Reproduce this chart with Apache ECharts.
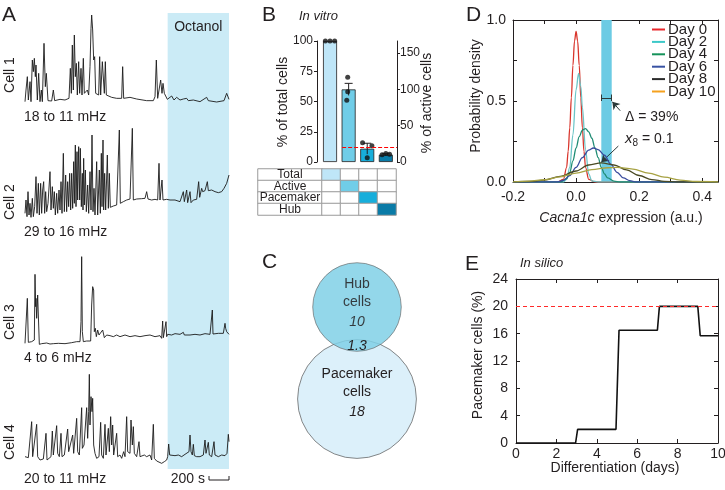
<!DOCTYPE html>
<html>
<head>
<meta charset="utf-8">
<script src="https://cdn.jsdelivr.net/npm/echarts@6/dist/echarts.min.js"></script>
<style>
  html, body { margin: 0; padding: 0; background: #fff; }
  #main { width: 725px; height: 490px; }
</style>
</head>
<body>
<div id="main"></div>
<script>
// ---------- A: calcium traces, [frame, F (a.u.)], one frame = 10/3 s
var frameSec = 10 / 3;
var octanolStart = 428;
var traceEnd = 612;
var cellNames = ['Cell 1', 'Cell 2', 'Cell 3', 'Cell 4'];
var cellFreq = ['18 to 11 mHz', '29 to 16 mHz', '4 to 6 mHz', '20 to 11 mHz'];

var cell1 = [[0,25],[3,60],[7,100],[10,30],[15,85],[18,25],[22,150],[25,115],[28,155],[31,100],[33,135],[37,30],[41,110],[45,25],[49,60],[52,25],[57,200],[61,70],[64,110],[69,28],[80,27],[85,60],[89,28],[105,32],[120,30],[132,35],[136,125],[139,50],[142,195],[145,60],[148,225],[151,100],[154,140],[157,45],[161,145],[164,50],[168,125],[171,45],[175,155],[178,50],[182,45],[187,60],[191,45],[195,130],[198,245],[200,285],[203,240],[206,150],[209,160],[212,50],[217,50],[221,45],[224,160],[227,45],[232,145],[235,140],[238,50],[241,145],[244,45],[250,42],[260,38],[275,35],[290,35],[293,130],[296,35],[315,38],[335,33],[365,28],[385,28],[390,40],[394,150],[398,35],[403,38],[407,90],[411,50],[414,80],[418,50],[422,55],[427,32],[433,35],[440,42],[447,30],[455,38],[465,30],[475,33],[485,35],[490,28],[505,30],[525,25],[530,22],[545,38],[550,28],[575,24],[597,28],[605,50],[609,45],[612,32]];

var cell2 = [[0,20],[3,60],[6,10],[9,85],[12,15],[15,50],[18,8],[22,65],[25,10],[29,40],[33,130],[36,20],[40,110],[43,15],[47,110],[50,20],[53,90],[56,115],[59,20],[62,85],[65,25],[69,50],[75,145],[78,30],[82,100],[85,35],[88,85],[91,15],[95,80],[98,20],[102,90],[105,30],[108,115],[111,20],[115,200],[118,25],[122,135],[125,25],[128,115],[131,40],[134,140],[137,30],[140,140],[143,35],[146,175],[148,50],[151,225],[153,40],[156,205],[158,60],[161,220],[164,60],[166,215],[169,40],[172,140],[174,30],[176,185],[178,45],[181,150],[184,25],[188,105],[191,20],[195,145],[198,30],[201,255],[204,25],[207,95],[210,15],[215,175],[218,15],[223,150],[226,20],[229,200],[231,40],[234,240],[236,30],[239,140],[242,30],[247,195],[250,35],[253,140],[256,38],[265,42],[275,45],[281,48],[283,270],[286,50],[295,55],[305,60],[315,63],[319,60],[322,275],[325,60],[335,63],[350,64],[360,65],[365,85],[369,63],[380,60],[390,62],[398,60],[402,170],[405,60],[408,65],[411,120],[414,60],[425,62],[435,60],[450,60],[465,55],[475,85],[478,55],[485,90],[488,52],[495,85],[498,52],[505,60],[515,62],[521,115],[524,68],[530,95],[533,85],[540,88],[547,115],[550,88],[560,90],[565,95],[570,85],[580,82],[590,85],[597,95],[605,110],[612,135]];

var cell3 = [[0,5],[4,10],[7,140],[10,8],[14,4],[20,10],[28,15],[30,212],[32,115],[33,140],[35,80],[38,150],[40,90],[43,2],[50,4],[65,6],[75,3],[80,8],[85,4],[100,5],[120,4],[140,7],[155,10],[160,15],[165,10],[168,70],[170,265],[172,40],[175,10],[180,15],[185,12],[190,10],[197,12],[200,120],[203,175],[206,165],[208,40],[211,50],[214,25],[218,45],[222,30],[228,35],[233,45],[238,22],[245,30],[255,28],[265,25],[275,30],[285,25],[300,30],[315,25],[330,28],[345,25],[360,28],[375,30],[390,25],[405,28],[410,20],[413,72],[415,22],[420,25],[423,70],[425,25],[428,32],[440,30],[450,34],[465,32],[475,38],[478,30],[495,30],[510,32],[525,30],[540,34],[555,32],[560,35],[562,105],[564,33],[580,35],[595,35],[600,65],[602,50],[605,40],[612,32]];

var cell4 = [[0,25],[5,20],[10,22],[15,25],[20,130],[23,25],[28,20],[35,122],[38,25],[45,15],[50,15],[55,18],[63,95],[66,15],[72,10],[78,25],[82,102],[85,30],[90,30],[95,118],[98,35],[103,25],[108,95],[111,25],[118,30],[123,30],[128,108],[131,40],[136,35],[143,90],[146,35],[150,30],[155,140],[158,40],[163,30],[170,172],[172,50],[177,60],[185,172],[188,80],[191,160],[193,272],[195,120],[198,205],[201,160],[203,200],[206,60],[210,35],[215,20],[222,25],[227,128],[230,30],[235,20],[240,122],[243,30],[247,30],[250,110],[253,40],[257,145],[260,60],[263,120],[266,30],[270,25],[275,95],[278,25],[285,30],[290,20],[296,40],[300,25],[305,145],[308,40],[315,35],[318,135],[322,60],[325,115],[328,35],[335,25],[342,70],[345,25],[350,20],[358,30],[362,35],[365,25],[370,20],[375,30],[380,15],[385,122],[388,20],[395,12],[400,8],[410,5],[418,10],[425,15],[428,25],[431,63],[434,30],[440,25],[450,28],[460,30],[470,25],[480,32],[492,40],[495,90],[498,40],[502,30],[505,62],[508,28],[515,25],[525,25],[535,30],[540,75],[543,35],[548,40],[550,68],[553,30],[560,25],[567,70],[570,30],[580,25],[590,30],[600,28],[606,35],[610,92],[612,70]];

var cells = [cell1, cell2, cell3, cell4];

// ---------- B: in vitro cell fractions
var bCats = ['Total', 'Active', 'Pacemaker', 'Hub'];
var bMean = [100, 60, 11, 6];
var bSem = [0, 5, 4.5, 0.8];
var bDots = [[100, 100, 100], [70, 58, 51], [16, 13.5, 3.5], [6, 7, 6.5]];
var bJitter = [[-0.25, 0, 0.25], [-0.05, -0.05, -0.1], [-0.25, 0.25, 0], [-0.2, 0, 0.2]];
var bColors = ['#bfe6f8', '#70cde8', '#17aedb', '#0a7ba7'];
var activeShare = 60;        // active cells as % of total (right axis scale)
var pacemakerThreshold = 20; // % of active cells
var thresholdSpan = [1.65, 4.6];

// ---------- C: Venn
var vennNames = ['Pacemaker', 'Hub'];
var vennSize = [18, 10];
var vennOverlap = 1.3;
var vennCenterY = [0, 0.92];
var vennColors = ['#dcf0fa', '#80d0e6'];

// ---------- D: Cacna1c expression densities
var dayNames = ['Day 0', 'Day 2', 'Day 4', 'Day 6', 'Day 8', 'Day 10'];
var day0 = [[-0.2,0],[-0.06,0],[-0.04,0.016],[-0.03,0.09],[-0.025,0.19],[-0.02,0.335],[-0.015,0.52],[-0.01,0.72],[-0.005,0.87],[0,0.93],[0.005,0.87],[0.01,0.72],[0.015,0.52],[0.02,0.335],[0.025,0.19],[0.03,0.09],[0.04,0.016],[0.06,0],[0.45,0]];
var day2 = [[-0.2,0],[-0.04,0],[-0.03,0.017],[-0.02,0.09],[-0.01,0.29],[0,0.57],[0.008,0.67],[0.015,0.59],[0.02,0.46],[0.03,0.2],[0.04,0.05],[0.05,0.007],[0.07,0],[0.45,0]];
var day4 = [[-0.2,0],[-0.05,0],[-0.03,0.02],[-0.02,0.06],[-0.01,0.13],[0,0.21],[0.01,0.28],[0.02,0.32],[0.03,0.33],[0.04,0.31],[0.05,0.27],[0.06,0.21],[0.07,0.15],[0.08,0.09],[0.09,0.05],[0.1,0.025],[0.12,0.005],[0.14,0],[0.45,0]];
var day6 = [[-0.2,0],[-0.06,0],[-0.04,0.01],[-0.02,0.04],[0,0.09],[0.02,0.15],[0.04,0.197],[0.055,0.21],[0.07,0.2],[0.09,0.165],[0.11,0.11],[0.13,0.06],[0.15,0.025],[0.17,0.008],[0.19,0],[0.45,0]];
var day8 = [[-0.2,0],[-0.15,0.003],[-0.1,0.012],[-0.05,0.035],[0,0.068],[0.04,0.105],[0.08,0.118],[0.12,0.105],[0.16,0.075],[0.2,0.04],[0.24,0.015],[0.28,0.004],[0.32,0],[0.45,0]];
var day10 = [[-0.2,0.001],[-0.15,0.005],[-0.1,0.014],[-0.05,0.032],[0,0.055],[0.05,0.076],[0.1,0.088],[0.13,0.09],[0.18,0.08],[0.23,0.055],[0.28,0.03],[0.33,0.012],[0.38,0.003],[0.45,0]];
var dayCurves = [day0, day2, day4, day6, day8, day10];
var dayLineColors = ['#d9352c', '#6cc5c7', '#1f8c74', '#3a4c9e', '#4a4a24', '#a7a243'];
var dayLegendColors = ['#e8262b', '#3cc8c8', '#15925a', '#3852a3', '#2b2b2b', '#f5a11e'];
var deltaBand = [0.08, 0.113];
var deltaY = 0.52;

// ---------- E: in silico pacemaker fraction
var eDays = [0, 2.95, 3.05, 4.95, 5.1, 7.0, 7.1, 9.0, 9.12, 10];
var ePacemaker = [0, 0, 2, 2, 16.5, 16.5, 20, 20, 15.7, 15.7];
var eTarget = 20;

var FONT = 'Liberation Sans, Arial, sans-serif';
var INK = '#231f20';

var chart = echarts.init(document.getElementById('main'));

function hidden(extra) {
  return Object.assign({ show: false }, extra);
}
function boxAxis(extra) {
  return Object.assign({
    type: 'value',
    axisLine: { show: true, onZero: false, lineStyle: { color: INK, width: 1 } },
    axisTick: { show: true, inside: true, length: 4, lineStyle: { color: INK } },
    splitLine: { show: false },
    axisLabel: { show: false }
  }, extra);
}
var tickFont = { fontFamily: FONT, fontSize: 14, color: INK };

var grids = [
  { left: 25, top: 13, width: 204, height: 456 },
  { left: 25, top: 10, width: 204, height: 100 },
  { left: 25, top: 120, width: 204, height: 100 },
  { left: 25, top: 245, width: 204, height: 100 },
  { left: 25, top: 365, width: 204, height: 100 },
  { left: 317, top: 41, width: 80, height: 121 },
  { left: 258, top: 169, width: 64, height: 46 },
  { left: 322, top: 169, width: 74, height: 46 },
  { left: 290, top: 240, width: 134, height: 230 },
  { left: 513, top: 20, width: 205, height: 162 },
  { left: 516, top: 279, width: 202, height: 164 }
].map(function (g) { g.outerBoundsMode = 'none'; return g; });

var xAxes = [];
var yAxes = [];
for (var i = 0; i < 5; i++) {
  xAxes.push(hidden({ type: 'value', gridIndex: i, min: 0, max: traceEnd }));
  yAxes.push(hidden({ type: 'value', gridIndex: i, min: 0, max: i === 0 ? 1 : 300 }));
}
// B
xAxes.push(hidden({ type: 'value', gridIndex: 5, min: 0.3, max: 4.6 }));           // 5
yAxes.push({                                                                       // 5
  type: 'value', gridIndex: 5, min: 0, max: 100, interval: 25, position: 'left',
  axisLine: { show: true, lineStyle: { color: INK } },
  axisTick: { show: true, length: 3, lineStyle: { color: INK } },
  axisLabel: { margin: 4, fontFamily: FONT, fontSize: 12, color: INK },
  splitLine: { show: false }
});
yAxes.push({                                                                       // 6
  type: 'value', gridIndex: 5, min: 0, max: 100 / activeShare * 100, interval: 50, position: 'right',
  axisLine: { show: true, lineStyle: { color: INK } },
  axisTick: { show: true, length: 3, lineStyle: { color: INK }, customValues: [0, 50, 100, 150] },
  axisLabel: { margin: 3, fontFamily: FONT, fontSize: 12, color: INK, customValues: [0, 50, 100, 150] },
  splitLine: { show: false }
});
xAxes.push(hidden({ type: 'category', gridIndex: 6, data: [''] }));               // 6
yAxes.push(hidden({ type: 'category', gridIndex: 6, data: bCats, inverse: true })); // 7
xAxes.push(hidden({ type: 'category', gridIndex: 7, data: bCats }));              // 7
yAxes.push(hidden({ type: 'category', gridIndex: 7, data: bCats, inverse: true })); // 8
// C
xAxes.push(hidden({ type: 'value', gridIndex: 8, min: -0.67, max: 0.67 }));       // 8
yAxes.push(hidden({ type: 'value', gridIndex: 8, min: -0.71, max: 1.59 }));       // 9
// D
var dTicks = [-0.2, -0.1, 0, 0.1, 0.2, 0.3, 0.4];
xAxes.push(boxAxis({                                                               // 9
  gridIndex: 9, min: -0.2, max: 0.45, interval: 0.1, position: 'bottom',
  axisTick: { show: true, inside: true, length: 4, lineStyle: { color: INK }, customValues: dTicks },
  axisLabel: Object.assign({ show: true, margin: 8, customValues: [-0.2, 0, 0.2, 0.4],
    formatter: function (v) { return Math.abs(Math.round(v * 10)) % 2 === 0 ? v.toFixed(1) : ''; } }, tickFont)
}));
xAxes.push(boxAxis({ gridIndex: 9, min: -0.2, max: 0.45, interval: 0.1, position: 'top',
  axisTick: { show: true, inside: true, length: 4, lineStyle: { color: INK }, customValues: dTicks } }));   // 10
yAxes.push(boxAxis({                                                               // 10
  gridIndex: 9, min: 0, max: 1, interval: 0.25, position: 'left',
  axisLabel: Object.assign({ show: true, margin: 7, customValues: [0, 0.5, 1],
    formatter: function (v) { return (v * 100) % 50 === 0 ? v.toFixed(1) : ''; } }, tickFont)
}));
yAxes.push(boxAxis({ gridIndex: 9, min: 0, max: 1, interval: 0.25, position: 'right' }));   // 11
// E
xAxes.push(boxAxis({ gridIndex: 10, min: 0, max: 10, interval: 2, position: 'bottom',
  axisLabel: Object.assign({ show: true, margin: 4 }, tickFont) }));               // 11
xAxes.push(boxAxis({ gridIndex: 10, min: 0, max: 10, interval: 2, position: 'top' })); // 12
yAxes.push(boxAxis({ gridIndex: 10, min: 0, max: 24, interval: 4, position: 'left',
  axisLabel: Object.assign({ show: true, margin: 8 }, tickFont) }));               // 12
yAxes.push(boxAxis({ gridIndex: 10, min: 0, max: 24, interval: 4, position: 'right' })); // 13

var series = [];

// A: octanol band
series.push({
  type: 'line', xAxisIndex: 0, yAxisIndex: 0, data: [], silent: true,
  markArea: {
    silent: true,
    itemStyle: { color: '#cbebf6' },
    label: { show: true, position: 'insideTop', distance: 7, fontFamily: FONT, fontSize: 14, color: INK },
    data: [[{ name: 'Octanol', xAxis: octanolStart }, { xAxis: traceEnd }]]
  }
});
cells.forEach(function (c, k) {
  series.push({
    type: 'line', name: cellNames[k], xAxisIndex: k + 1, yAxisIndex: k + 1,
    data: c, showSymbol: false, symbol: 'none', silent: true, z: 3,
    lineStyle: { color: '#1b1b1b', width: 0.9 }
  });
});

// B: bars, error bars, dots, threshold
series.push({
  type: 'bar', xAxisIndex: 5, yAxisIndex: 5, barWidth: 14,
  data: bMean.map(function (v, k) { return { value: [k + 1, v], itemStyle: { color: bColors[k] } }; }),
  itemStyle: { borderColor: INK, borderWidth: 0.8 }
});
series.push({
  type: 'custom', xAxisIndex: 5, yAxisIndex: 5, z: 4,
  data: bMean.map(function (v, k) { return [k + 1, v, bSem[k]]; }).filter(function (d) { return d[2] > 0; }),
  renderItem: function (params, api) {
    var x = api.value(0), m = api.value(1), s = api.value(2);
    var top = api.coord([x, m + s]), bot = api.coord([x, m - s]);
    var st = { stroke: INK, lineWidth: 1 };
    return { type: 'group', children: [
      { type: 'line', shape: { x1: top[0], y1: top[1], x2: bot[0], y2: bot[1] }, style: st },
      { type: 'line', shape: { x1: top[0] - 4, y1: top[1], x2: top[0] + 4, y2: top[1] }, style: st }
    ] };
  }
});
var dots = [];
bDots.forEach(function (arr, k) {
  arr.forEach(function (v, j) { dots.push([k + 1 + bJitter[k][j], v]); });
});
series.push({
  type: 'scatter', xAxisIndex: 5, yAxisIndex: 5, z: 5, symbolSize: 5,
  itemStyle: { color: '#111' }, data: dots
});
series.push({
  type: 'line', xAxisIndex: 5, yAxisIndex: 6, silent: true, z: 6,
  data: thresholdSpan.map(function (x) { return [x, pacemakerThreshold]; }),
  showSymbol: false, symbol: 'none',
  lineStyle: { color: '#ff0000', type: [4, 2], width: 1.1 }
});

// B: table
series.push({
  type: 'heatmap', xAxisIndex: 6, yAxisIndex: 7, silent: true,
  data: bCats.map(function (c, r) { return [0, r, 0]; }),
  itemStyle: { color: '#fff', borderColor: '#9a9a9a', borderWidth: 1 },
  label: { show: true, fontFamily: FONT, fontSize: 12, color: INK,
    formatter: function (p) { return bCats[p.value[1]]; } }
});
var tableCells = [];
bCats.forEach(function (rc, r) {
  bCats.forEach(function (cc, c) {
    tableCells.push({ value: [c, r, r === c ? 1 : 0], itemStyle: { color: r === c ? bColors[c] : '#fff' } });
  });
});
series.push({
  type: 'heatmap', xAxisIndex: 7, yAxisIndex: 8, silent: true, data: tableCells,
  itemStyle: { borderColor: '#9a9a9a', borderWidth: 1 }
});

// C: Venn
var vennLabels = ['{n|Pacemaker}\n{n|cells}\n{v|' + vennSize[0] + '}', '{n|Hub}\n{n|cells}\n{v|' + vennSize[1] + '}'];
var vennLabelShift = [-5, -3];
series.push({
  type: 'scatter', xAxisIndex: 8, yAxisIndex: 9, silent: true,
  data: vennNames.map(function (n, k) {
    return {
      name: n, value: [0, vennCenterY[k]],
      symbolSize: 28 * Math.sqrt(vennSize[k]),
      itemStyle: { color: vennColors[k], opacity: k === 1 ? 0.85 : 1, borderColor: '#6a6a6a', borderWidth: 0.8 },
      label: {
        show: true, position: 'inside', offset: [0, vennLabelShift[k]], formatter: vennLabels[k],
        rich: {
          n: { fontFamily: FONT, fontSize: 14, color: INK, lineHeight: 18 },
          v: { fontFamily: FONT, fontSize: 14, fontStyle: 'italic', color: INK, lineHeight: 22 }
        }
      }
    };
  })
});

// D: densities
dayCurves.forEach(function (curve, k) {
  var s = {
    type: 'line', name: dayNames[k], xAxisIndex: 9, yAxisIndex: 10,
    data: curve, smooth: 0.35, smoothMonotone: 'x', showSymbol: false, symbol: 'none',
    lineStyle: { color: dayLineColors[k], width: 1.3 }, itemStyle: { color: dayLineColors[k] },
    z: 3 + k
  };
  if (k === 0) {
    s.markArea = {
      silent: true, itemStyle: { color: '#6ccbe4' },
      data: [[{ xAxis: deltaBand[0] }, { xAxis: deltaBand[1] }]]
    };
    s.markLine = {
      silent: true, symbol: 'none', label: { show: false },
      lineStyle: { color: '#2b3a3a', width: 1, type: 'solid' },
      data: [
        [{ coord: [deltaBand[0], deltaY] }, { coord: [deltaBand[1], deltaY] }],
        [{ coord: [deltaBand[0], deltaY - 0.02] }, { coord: [deltaBand[0], deltaY + 0.02] }],
        [{ coord: [deltaBand[1], deltaY - 0.02] }, { coord: [deltaBand[1], deltaY + 0.02] }],
        [{ coord: [0.14, 0.44], symbol: 'none' }, { coord: [0.115, 0.495], symbol: 'arrow', symbolSize: 7 }],
        [{ coord: [0.134, 0.222], symbol: 'none' }, { coord: [0.08, 0.122], symbol: 'arrow', symbolSize: 7 }]
      ]
    };
  }
  series.push(s);
});

// E: step curve
series.push({
  type: 'line', name: 'In silico', xAxisIndex: 11, yAxisIndex: 12,
  data: eDays.map(function (d, k) { return [d, ePacemaker[k]]; }),
  showSymbol: false, symbol: 'none', lineStyle: { color: '#111', width: 1.6 }, z: 4,
  markLine: {
    silent: true, symbol: 'none', label: { show: false },
    lineStyle: { color: '#ff2a2a', type: [4, 3], width: 1 },
    data: [{ yAxis: eTarget }]
  }
});

chart.setOption({
  animation: false,
  backgroundColor: '#fff',
  textStyle: { fontFamily: FONT },
  grid: grids,
  xAxis: xAxes,
  yAxis: yAxes,
  legend: {
    orient: 'vertical', left: 652, top: 22, padding: 0, itemGap: -2.6,
    itemWidth: 13, itemHeight: 2, icon: 'rect', selectedMode: false,
    textStyle: { fontFamily: FONT, fontSize: 15, color: INK, padding: [0, 0, 0, -2] },
    data: dayNames.map(function (n, k) { return { name: n, itemStyle: { color: dayLegendColors[k] } }; })
  },
  series: series
});

// ---------- text and scale bar
function txt(x, y, text, o) {
  o = o || {};
  return {
    type: 'text', x: x, y: y, rotation: o.rot || 0, silent: true, z: 100,
    style: {
      text: text, fill: INK,
      font: (o.italic ? 'italic ' : '') + (o.size || 14) + 'px ' + FONT,
      textAlign: o.align || 'left', align: o.align || 'left',
      textVerticalAlign: 'middle', verticalAlign: 'middle',
      rich: o.rich
    }
  };
}
var g = [];
g.push(txt(2, 15, 'A', { size: 21 }));
g.push(txt(262, 15, 'B', { size: 21 }));
g.push(txt(262, 262, 'C', { size: 21 }));
g.push(txt(466, 15, 'D', { size: 21 }));
g.push(txt(465, 264, 'E', { size: 21 }));
g.push(txt(299, 16, 'In vitro', { size: 13, italic: true }));
g.push(txt(520, 263, 'In silico', { size: 13, italic: true }));

var cellLabelY = [75, 202, 322, 442];
var freqY = [117, 232, 358, 479];
cellNames.forEach(function (n, k) {
  g.push(txt(10, cellLabelY[k], n, { rot: Math.PI / 2, align: 'center' }));
  g.push(txt(24, freqY[k], cellFreq[k]));
});

var barR = chart.convertToPixel({ xAxisIndex: 4 }, traceEnd);
var barL = chart.convertToPixel({ xAxisIndex: 4 }, traceEnd - 200 / frameSec);
g.push(txt(barL - 4, 479, '200 s', { align: 'right' }));
g.push({ type: 'polyline', silent: true, z: 100,
  shape: { points: [[barL, 476], [barL, 480], [barR, 480], [barR, 476]] },
  style: { stroke: INK, lineWidth: 1, fill: null } });

g.push(txt(283, 102, '% of total cells', { rot: Math.PI / 2, align: 'center' }));
g.push(txt(427, 103, '% of active cells', { rot: Math.PI / 2, align: 'center' }));
g.push(txt(357, 346, String(vennOverlap), { italic: true, align: 'center' }));

g.push(txt(476, 96, 'Probability density', { rot: Math.PI / 2, align: 'center' }));
g.push(txt(621, 218, '{i|Cacna1c}{n| expression (a.u.)}', { align: 'center', rich: {
  i: { fontFamily: FONT, fontSize: 14, fontStyle: 'italic', fill: INK },
  n: { fontFamily: FONT, fontSize: 14, fill: INK } } }));
g.push(txt(625, 117, '\u0394 = 39%'));
g.push(txt(625, 139, '{i|x}{s|8}{n| = 0.1}', { rich: {
  i: { fontFamily: FONT, fontSize: 15, fontStyle: 'italic', fill: INK },
  s: { fontFamily: FONT, fontSize: 10, fill: INK, padding: [9, 0, 0, 0] },
  n: { fontFamily: FONT, fontSize: 14, fill: INK } } }));

g.push(txt(478, 355, 'Pacemaker cells (%)', { rot: Math.PI / 2, align: 'center' }));
g.push(txt(615, 468, 'Differentiation (days)', { align: 'center' }));

chart.setOption({ graphic: g });
</script>
</body>
</html>
